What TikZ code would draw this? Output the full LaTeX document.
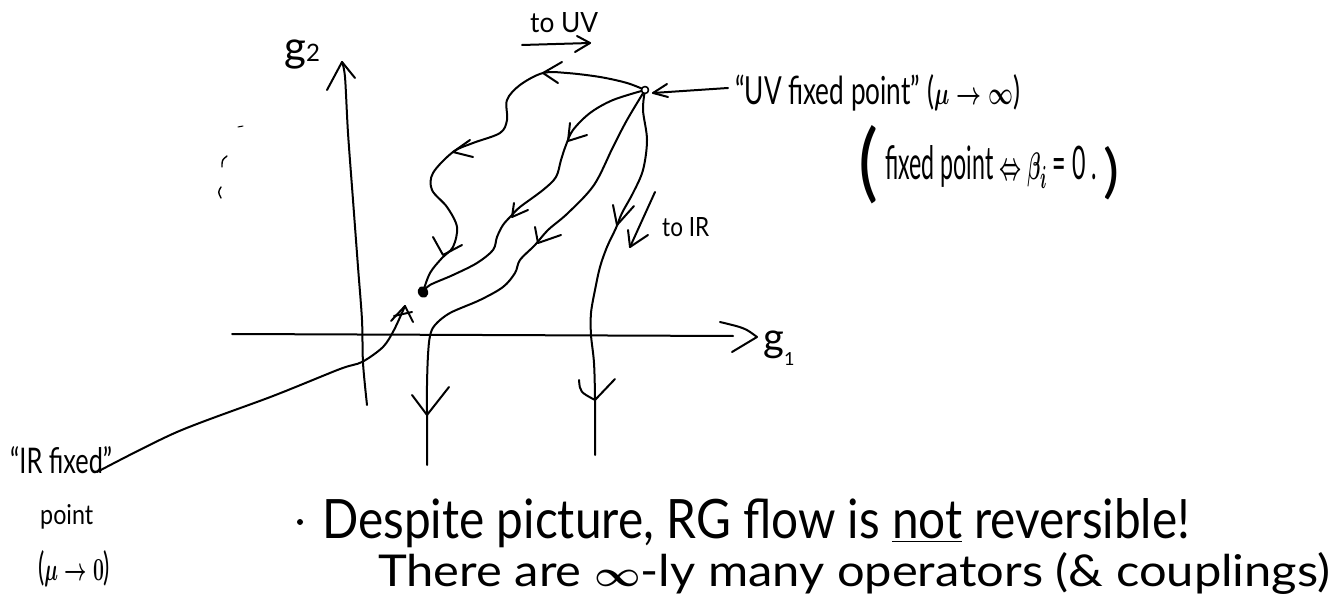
\documentclass[tikz,border=0pt]{standalone}
\usepackage{fontspec}
\setmainfont{Lato}
\usepackage{graphicx}
\usetikzlibrary{arrows.meta,shapes.geometric}
\newcommand{\hw}[3]{\resizebox{#1}{#2}{#3}}
\begin{document}
\begin{tikzpicture}[x=1pt,y=-1pt,line cap=round,line join=round,
  ink/.style={line width=2pt,black},
  flow/.style={ink,smooth,tension=0.55},
  lbl/.style={inner sep=0pt,anchor=base west,font=\fontsize{30}{36}\selectfont\boldmath},
  uvdot/.style={circle,draw=black,fill=white,line width=1.6pt,inner sep=0pt,minimum size=7pt},
  irdot/.style={ellipse,fill=black,inner sep=0pt,minimum width=10pt,minimum height=12pt,rotate=30}]
\useasboundingbox[fill=white] (0,0) rectangle (1332,609);

% ---------- axes ----------
\coordinate (ybot) at (367,405);
\coordinate (ytop) at (342,62);
\draw[ink] plot[smooth] coordinates {(ybot) (363,363) (362,320) (358,267) (353,200) (348,133) (345,77) (ytop)};
\draw[ink] (327,90) -- (ytop) -- (355,78);
\coordinate (xl) at (232,334);
\coordinate (xr) at (733,336);
\draw[ink] (xl) -- (xr);
\draw[ink] (720,322) .. controls (745,328) .. (757,337) -- (732,352);
\node[lbl] (g2) at (284,62) {\fontsize{42}{42}\selectfont g\fontsize{24}{24}\selectfont 2};
\node[lbl] (g1) at (763,351) {\fontsize{40}{40}\selectfont g\raisebox{-14pt}{\fontsize{18}{18}\selectfont 1}};

% ---------- fixed points ----------
\coordinate (UV) at (645,90);
\coordinate (IR) at (423,292);

% outer wiggly loop
\draw[flow] plot coordinates {(UV) (627,83) (600,77) (567,73) (543,73) (520,85) (507,100) (507,120) (500,133) (473,143) (453,152) (433,173) (432,190) (447,207) (457,227) (453,247) (442,258) (430,273) (IR)};
\draw[ink] (562,62) -- (543,73) -- (558,83);
\draw[ink] (470,140) -- (453,152) -- (473,157);
\draw[ink] (433,237) -- (443,255) -- (462,245);

% curve B
\draw[flow] plot coordinates {(UV) (613,100) (590,113) (573,130) (566,145) (561,160) (556,177) (543,190) (520,207) (512,215) (503,225) (497,237) (493,250) (477,263) (453,275) (430,285) (IR)};
\draw[ink] (570,123) -- (568,141) -- (587,135);
\draw[ink] (514,203) -- (512,217) -- (528,210);

% curve C
\draw[flow] plot coordinates {(UV) (627,120) (613,147) (594,185) (568,213) (548,230) (535,245) (520,260) (515,273) (503,287) (480,300) (450,313) (435,325) (430,336) (428,355) (427,385) (427,415) (427,465)};
\draw[ink] (535,227) -- (538,243) -- (561,235);
\draw[ink] (412,395) -- (427,415) -- (449,387);

% curve D
\draw[flow] plot coordinates {(UV) (643,110) (647,140) (643,170) (633,193) (622,213) (616,228) (607,247) (600,267) (595,290) (591,313) (591,335) (594,363) (595,400) (595,455)};
\draw[ink] (613,205) -- (617,225) -- (634,206);
\draw[ink] (579,380) .. controls (580,392) .. (595,400) -- (615,379);

\node[uvdot] (uvd) at (UV) {};
\node[irdot] (ird) at (IR) {};

% ---------- direction arrows ----------
\coordinate (tuvA) at (522,45);
\coordinate (tuvB) at (590,43);
\draw[ink] (tuvA) -- (tuvB);
\draw[ink] (577,36) -- (tuvB) -- (575,52);
\node[lbl] (touv) at (530,33) {\hw{68pt}{20pt}{to UV}};

\coordinate (tirA) at (655,192);
\coordinate (tirB) at (630,247);
\draw[ink] (tirA) -- (tirB);
\draw[ink] (628,230) -- (tirB) -- (648,235);
\node[lbl] (toir) at (662,237) {\hw{47pt}{19pt}{to IR}};

% ---------- UV label ----------
\node[lbl] (uvlbl) at (735,105) {\hw{285pt}{30pt}{``UV fixed point'' ($\mu\to\infty$)}};
\coordinate (uvtail) at (728,88);
\draw[ink] (uvtail) -- (653,93);
\draw[ink] (667,84) -- (653,93) -- (668,97);

\node[lbl] (bpar) at (858,192) {\hw{20pt}{66pt}{(}};
\node[lbl] (beta) at (885,180) {\hw{212pt}{34pt}{fixed point $\Leftrightarrow$ $\beta_i$ = 0 .}};
\node[lbl] (epar) at (1103,192) {\hw{16pt}{45pt}{)}};

% ---------- IR label ----------
\node[lbl] (irl1) at (10,473) {\hw{102pt}{27pt}{``IR fixed''}};
\node[lbl] (irl2) at (40,524) {\hw{53pt}{20pt}{point}};
\node[lbl] (irl3) at (38,580) {\hw{72pt}{30pt}{($\mu\to 0$)}};
\coordinate (irtail) at (97,472);
\coordinate (irhead) at (405,306);
\draw[ink] plot[smooth] coordinates {(irtail) (177,432) (273,396) (340,369) (362,362) (383,347) (394,330) (irhead)};
\draw[ink] (391,321) -- (irhead) -- (413,322);
\draw[ink] (394,316) -- (412,312);

% ---------- stray marks ----------
\draw[line width=1pt] (238,127) -- (243,126);
\draw[line width=1.4pt] (227,156) .. controls (222,160) .. (222,167);
\draw[line width=1.4pt] (221,187) .. controls (218,192) .. (221,198);

% ---------- remark ----------
\node[circle,fill=black,inner sep=0pt,minimum size=6pt] (bul) at (300,522) {};
\node[lbl] (rem1) at (322,538) {\hw{868pt}{40pt}{Despite picture, RG flow is \underline{not} reversible!}};
\node[lbl] (rem2) at (378,586) {\hw{952pt}{34pt}{There are $\infty$-ly many operators (\& couplings)}};
\end{tikzpicture}
\end{document}
